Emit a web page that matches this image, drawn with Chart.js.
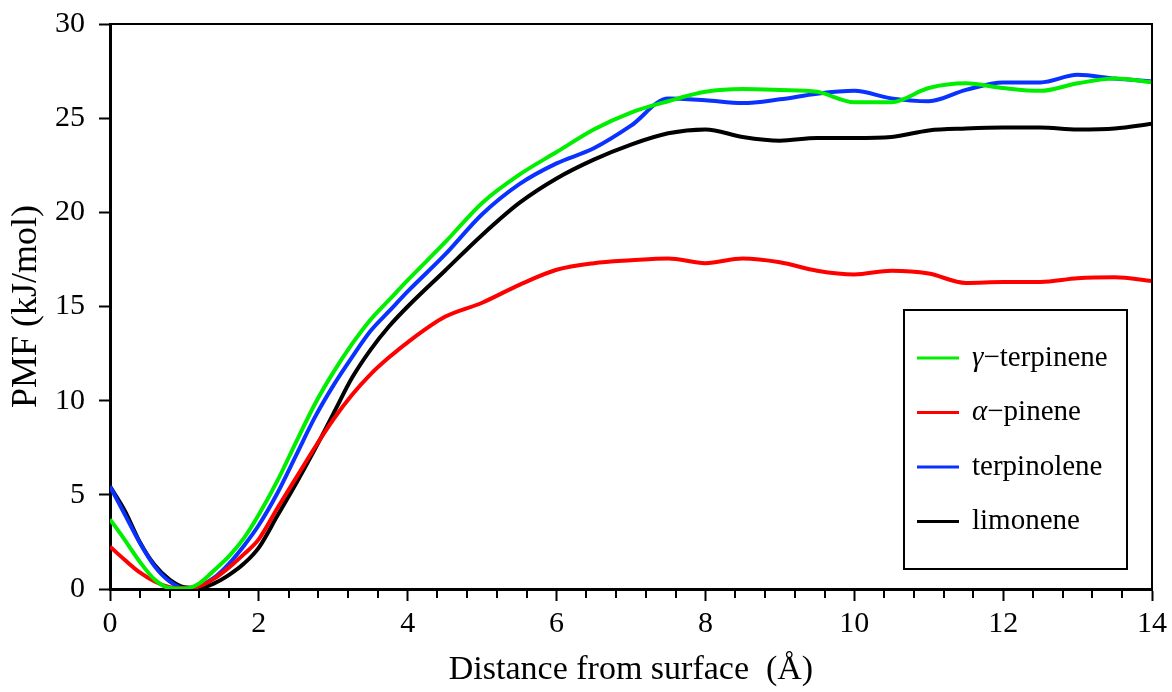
<!DOCTYPE html>
<html>
<head>
<meta charset="utf-8">
<script src="https://cdn.jsdelivr.net/npm/chart.js@4/dist/chart.umd.min.js"></script>
<style>
  html, body { margin: 0; padding: 0; background: #fff; }
  #wrap { width: 1172px; height: 692px; }
</style>
</head>
<body>
<div id="wrap"><canvas id="pmf-chart" width="1172" height="692"></canvas></div>
<script>
'use strict';

// distance from surface (Å)
let distance = [0, 0.2, 0.4, 0.6, 0.8, 1.0, 1.2, 1.4, 1.6, 1.8, 2.0, 2.25, 2.5, 2.75, 3.0, 3.25, 3.5, 3.75, 4.0,
  4.5, 5.0, 5.5, 6.0, 6.5, 7.0, 7.5, 8.0, 8.5, 9.0, 9.5, 10.0, 10.5, 11.0, 11.5, 12.0, 12.5, 13.0, 13.5, 14.0];

// PMF values (kJ/mol)
let gammaTerpinene = [3.7, 2.6, 1.45, 0.5, 0.05, 0.02, 0.3, 1.0, 1.75, 2.7, 3.95, 5.75, 7.8, 9.8, 11.5, 13.0, 14.3, 15.35, 16.4,
  18.4, 20.5, 22.0, 23.2, 24.4, 25.3, 25.9, 26.4, 26.55, 26.5, 26.4, 25.85, 25.85, 26.6, 26.85, 26.6, 26.45, 26.85, 27.1, 26.9];
let alphaPinene = [2.25, 1.54, 0.88, 0.4, 0.1, 0.04, 0.15, 0.55, 1.15, 1.85, 2.65, 4.3, 5.9, 7.5, 9.0, 10.3, 11.4, 12.3, 13.1,
  14.45, 15.2, 16.15, 16.95, 17.3, 17.45, 17.55, 17.3, 17.55, 17.35, 16.9, 16.7, 16.9, 16.75, 16.25, 16.3, 16.3, 16.5, 16.55, 16.35];
let terpinolene = [5.45, 3.95, 2.45, 1.2, 0.4, 0.03, 0.15, 0.6, 1.35, 2.3, 3.4, 5.1, 7.1, 9.1, 10.8, 12.3, 13.7, 14.75, 15.8,
  17.75, 19.9, 21.5, 22.6, 23.4, 24.6, 26.05, 25.95, 25.8, 26.0, 26.3, 26.45, 26.05, 25.9, 26.5, 26.9, 26.9, 27.3, 27.1, 26.95];
let limonene = [5.45, 4.15, 2.5, 1.27, 0.5, 0.1, 0.06, 0.3, 0.75, 1.35, 2.2, 3.9, 5.6, 7.4, 9.3, 11.2, 12.7, 13.95, 15.0,
  16.9, 18.8, 20.5, 21.8, 22.8, 23.6, 24.2, 24.4, 24.0, 23.8, 23.95, 23.95, 24.0, 24.35, 24.45, 24.5, 24.5, 24.4, 24.45, 24.7];

let seriesNames = ['γ−terpinene', 'α−pinene', 'terpinolene', 'limonene'];
let seriesColors = ['#00ee00', '#ff0000', '#0a32ff', '#000000'];

// axes
let xMin = 0, xMax = 14, xStep = 2, xMinorStep = 0.4;
let yMin = 0, yMax = 30, yStep = 5;

let serif = '"Liberation Serif", "Times New Roman", serif';

function toPoints(values) {
  let pts = [];
  for (let i = 0; i < distance.length; i++) {
    pts.push({ x: distance[i], y: values[i] });
  }
  return pts;
}

let allSeries = [gammaTerpinene, alphaPinene, terpinolene, limonene];
let datasets = [];
for (let i = 0; i < allSeries.length; i++) {
  datasets.push({
    label: seriesNames[i],
    data: toPoints(allSeries[i]),
    borderColor: seriesColors[i],
    backgroundColor: seriesColors[i],
    borderWidth: 4,
    pointRadius: 0,
    fill: false,
    cubicInterpolationMode: 'monotone'
  });
}

// minor ticks on x, top/right frame, boxed legend inside the plot
const extras = {
  id: 'extras',
  afterDraw(chart) {
    const c = chart.ctx;
    const a = chart.chartArea;
    const xs = chart.scales.x;
    c.save();
    c.strokeStyle = '#000';

    // minor ticks
    c.lineWidth = 2;
    for (let k = 0; k * xMinorStep <= xMax + 1e-6; k++) {
      let v = k * xMinorStep;
      if (Math.abs(v / xStep - Math.round(v / xStep)) < 1e-6) continue;
      let px = Math.round(xs.getPixelForValue(v));
      c.beginPath();
      c.moveTo(px, a.bottom);
      c.lineTo(px, a.bottom + 9);
      c.stroke();
    }

    // top and right frame
    c.lineWidth = 2;
    c.beginPath();
    c.moveTo(a.left, a.top);
    c.lineTo(a.right, a.top);
    c.lineTo(a.right, a.bottom);
    c.stroke();

    // legend
    let bx = a.right - 248, by = a.top + 286, bw = 223, bh = 259;
    c.fillStyle = '#fff';
    c.fillRect(bx, by, bw, bh);
    c.lineWidth = 2;
    c.strokeRect(bx, by, bw, bh);
    let ds = chart.data.datasets;
    for (let i = 0; i < ds.length; i++) {
      let y = by + 48 + i * 54.5;
      c.strokeStyle = ds[i].borderColor;
      c.lineWidth = 3;
      c.beginPath();
      c.moveTo(bx + 13, y);
      c.lineTo(bx + 55, y);
      c.stroke();

      c.fillStyle = '#000';
      c.textBaseline = 'middle';
      c.textAlign = 'left';
      let label = ds[i].label;
      let tx = bx + 68;
      if (/^[α-ω]/.test(label)) {
        c.font = 'italic 29px ' + serif;
        c.fillText(label[0], tx, y);
        tx += c.measureText(label[0]).width;
        label = label.slice(1);
      }
      c.font = '29px ' + serif;
      c.fillText(label, tx, y);
    }
    c.restore();
  }
};

let ctx = document.getElementById('pmf-chart').getContext('2d');

const pmfChart = new Chart(ctx, {
  type: 'line',
  data: { datasets: datasets },
  options: {
    responsive: false,
    animation: false,
    layout: { padding: { top: 24, right: 19, left: 0, bottom: 0 } },
    plugins: {
      legend: { display: false },
      tooltip: { enabled: false }
    },
    scales: {
      x: {
        type: 'linear',
        min: xMin,
        max: xMax,
        afterFit(scale) { scale.height = 103; },
        ticks: {
          stepSize: xStep,
          color: '#000',
          padding: 5,
          font: { family: serif, size: 30 }
        },
        grid: {
          drawOnChartArea: false,
          drawTicks: true,
          tickLength: 12,
          tickWidth: 2,
          tickColor: '#000'
        },
        border: { display: true, color: '#000', width: 3 },
        title: {
          display: true,
          text: 'Distance from surface  (Å)',
          color: '#000',
          font: { family: serif, size: 34 },
          padding: { top: 4, bottom: 2 }
        }
      },
      y: {
        min: yMin,
        max: yMax,
        afterFit(scale) {
          scale.width = 110;
          scale.paddingTop = 0;
          scale.paddingBottom = 0;
        },
        ticks: {
          stepSize: yStep,
          color: '#000',
          padding: 14,
          font: { family: serif, size: 30 }
        },
        grid: {
          drawOnChartArea: false,
          drawTicks: true,
          tickLength: 11,
          tickWidth: 2,
          tickColor: '#000'
        },
        border: { display: true, color: '#000', width: 3 },
        title: {
          display: true,
          text: 'PMF (kJ/mol)',
          color: '#000',
          font: { family: serif, size: 36 },
          padding: { top: 5, bottom: 0 }
        }
      }
    }
  },
  plugins: [extras]
});
</script>
</body>
</html>
